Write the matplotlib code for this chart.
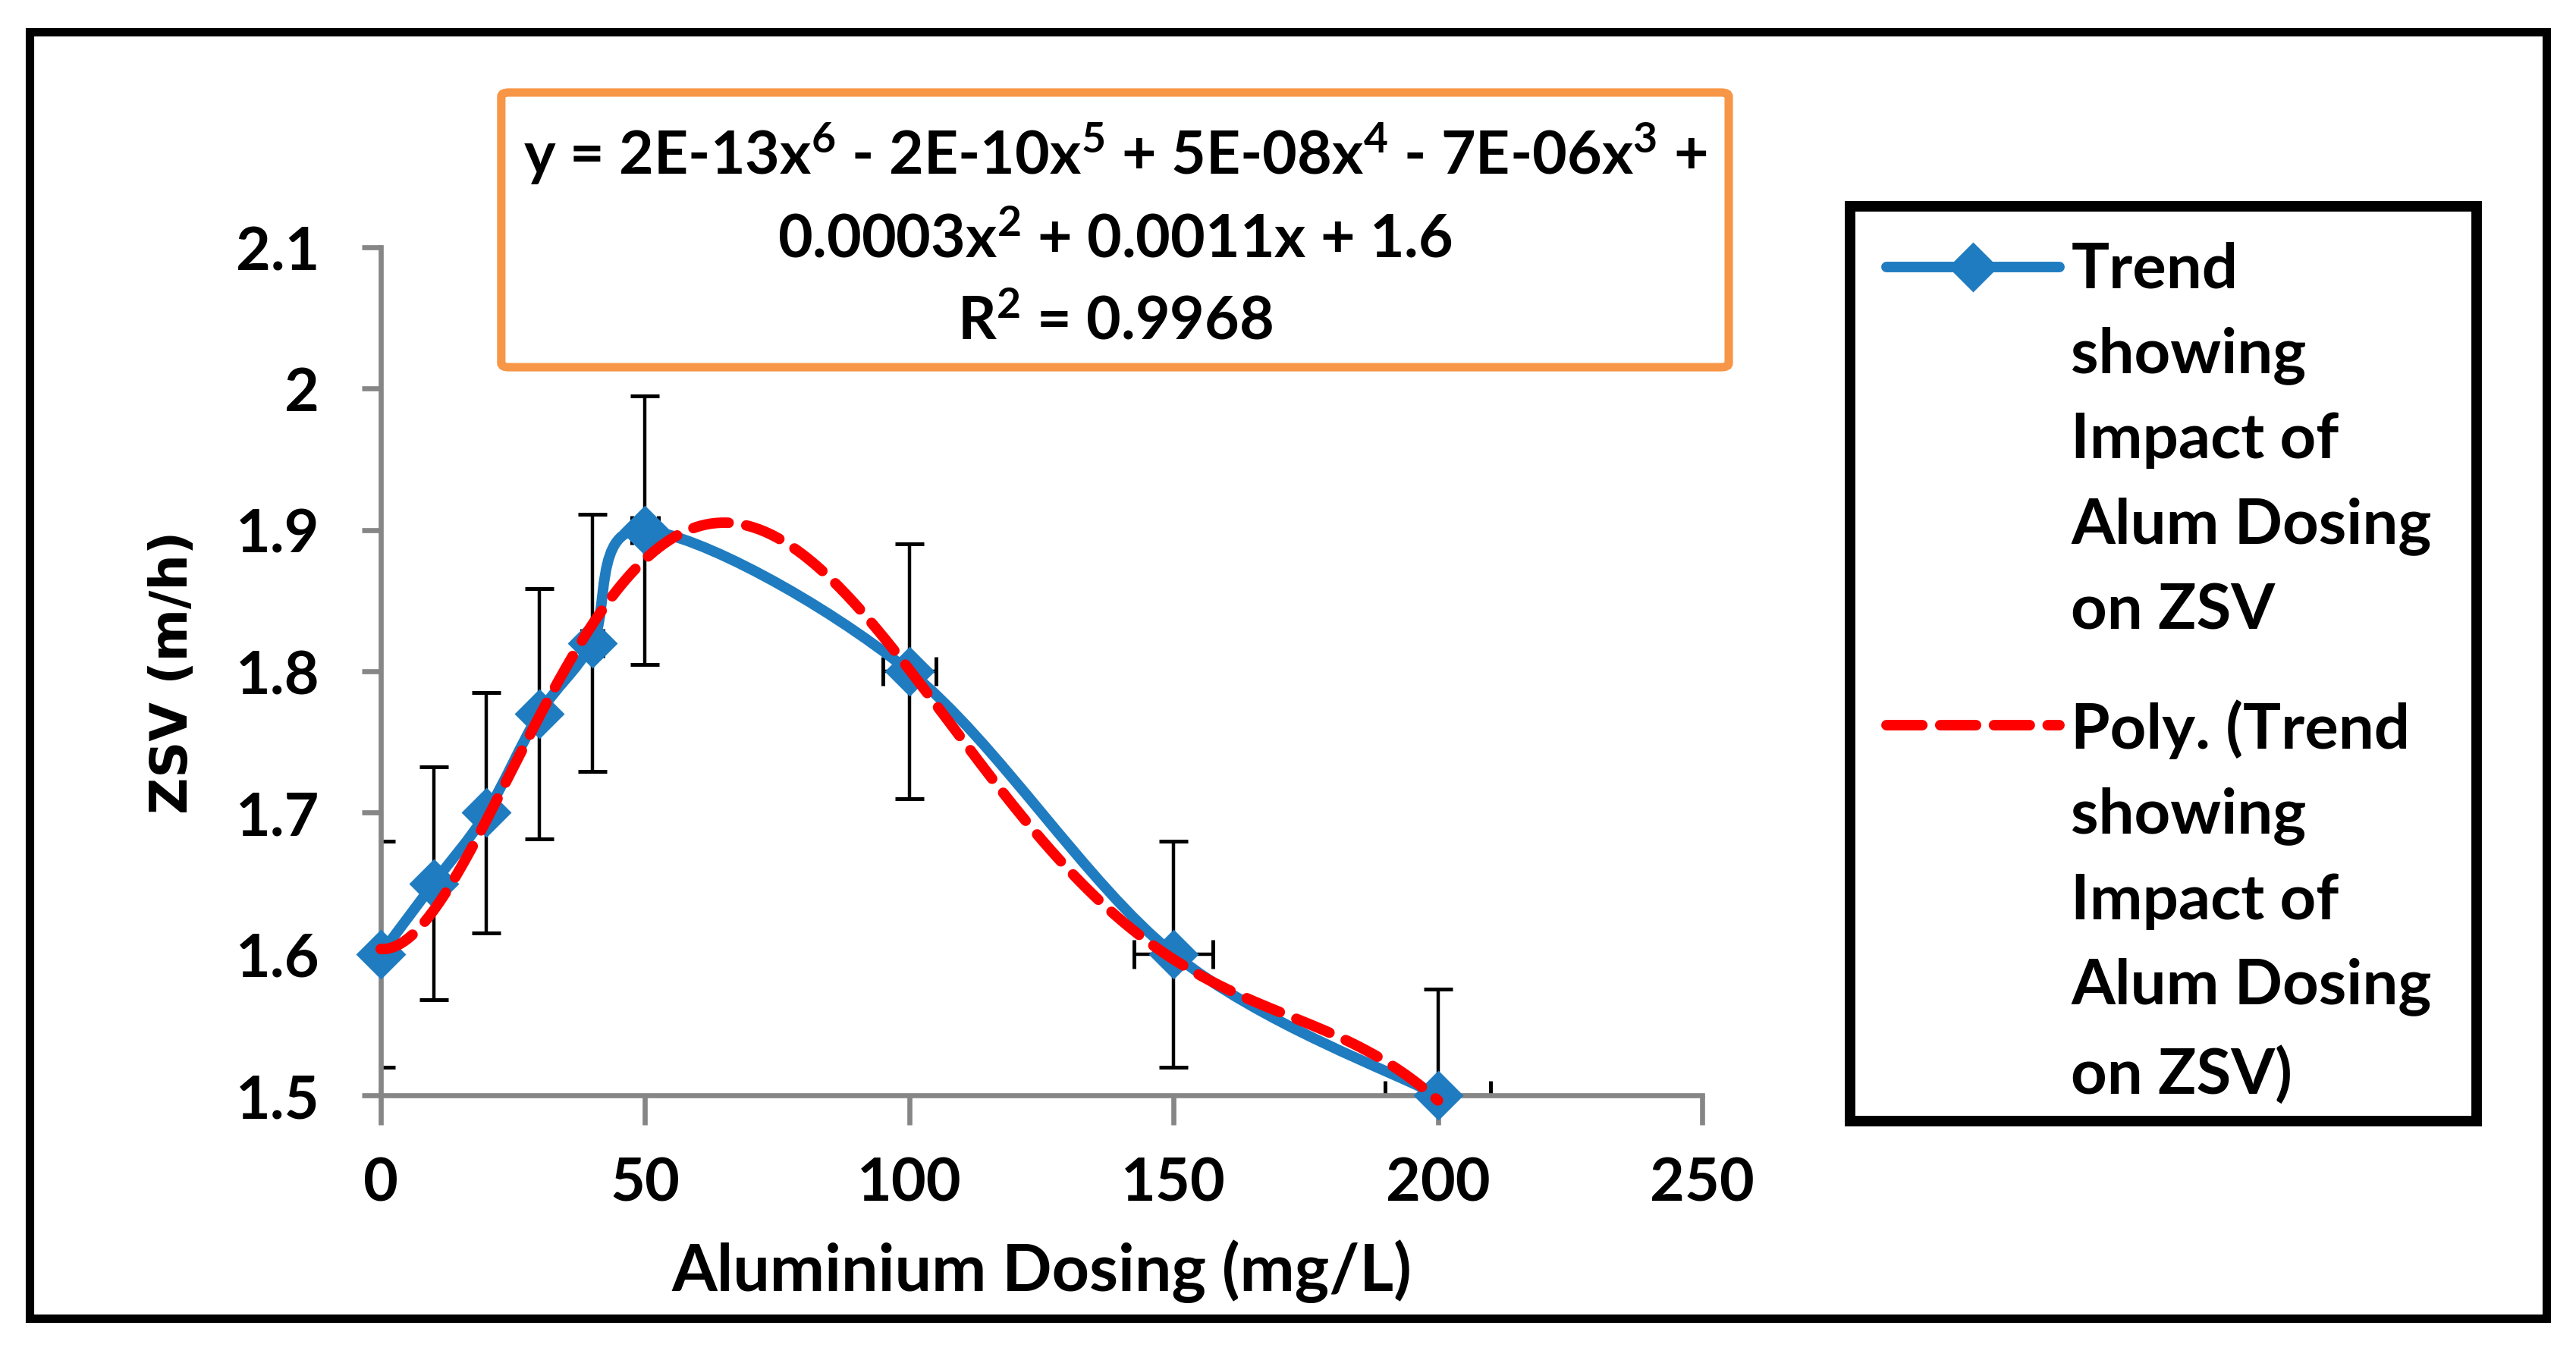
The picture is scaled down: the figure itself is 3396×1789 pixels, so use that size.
import matplotlib
matplotlib.use("Agg")
import matplotlib.pyplot as plt
import numpy as np
from matplotlib.path import Path
from matplotlib.patches import PathPatch, Rectangle, FancyBboxPatch
from matplotlib.lines import Line2D

# data
dose = [0, 10, 20, 30, 40, 50, 100, 150, 200]
zsv = [1.6, 1.65, 1.7, 1.77, 1.82, 1.9, 1.8, 1.6, 1.5]
zsv_err = [0.08, 0.0825, 0.085, 0.0885, 0.091, 0.095, 0.09, 0.08, 0.075]
dose_err = [0, 0.5, 1, 1.5, 2, 2.5, 5, 7.5, 10]
# 6th order trendline, coefficients estimated from the drawn curve
# (the box only shows them rounded)
trend_coef = [2.278913e-13, -1.860350e-10, 5.602086e-08, -7.440431e-06,
              3.696114e-04, -2.768698e-04, 1.603562]
xticks = [0, 50, 100, 150, 200, 250]
yticks = [1.5, 1.6, 1.7, 1.8, 1.9, 2.0, 2.1]
ytick_labels = ["1.5", "1.6", "1.7", "1.8", "1.9", "2", "2.1"]
legend_labels = ["Trend\nshowing\nImpact of\nAlum Dosing\non ZSV",
                 "Poly. (Trend\nshowing\nImpact of\nAlum Dosing\non ZSV)"]
equation = ("y = 2E-13x$^{6}$ - 2E-10x$^{5}$ + 5E-08x$^{4}$ - 7E-06x$^{3}$ +\n"
            "0.0003x$^{2}$ + 0.0011x + 1.6\n"
            "R$^{2}$ = 0.9968")

blue = "#1F7CC0"
red = "#FF0000"
orange = "#F79646"
grey = "#868686"

plt.rcParams["font.family"] = ["Lato", "DejaVu Sans"]
plt.rcParams["font.weight"] = "bold"
plt.rcParams["mathtext.fontset"] = "custom"
plt.rcParams["mathtext.rm"] = "Lato:bold"
plt.rcParams["mathtext.it"] = "Lato:bold"
plt.rcParams["mathtext.bf"] = "Lato:bold"

fig = plt.figure(figsize=(16.98, 8.95), dpi=200)
ax = fig.add_axes([0.1478, 0.1927, 0.5130, 0.6246])

# smoothed line like Excel (Catmull-Rom -> bezier)
pts = np.column_stack([dose, zsv])
ext = np.vstack([pts[0], pts, pts[-1]])
verts = [pts[0]]
codes = [Path.MOVETO]
for i in range(len(pts) - 1):
    p0, p1, p2, p3 = ext[i], ext[i + 1], ext[i + 2], ext[i + 3]
    verts += [p1 + (p2 - p0) / 6, p2 - (p3 - p1) / 6, p2]
    codes += [Path.CURVE4] * 3
ax.add_patch(PathPatch(Path(verts, codes), fill=False, edgecolor=blue,
                       lw=5, capstyle="round", joinstyle="round",
                       zorder=3, clip_on=False))

ax.errorbar(dose, zsv, yerr=zsv_err, xerr=dose_err, fmt="none",
            ecolor="black", elinewidth=1.6, capsize=7, capthick=1.8, zorder=2)
ax.plot(dose, zsv, linestyle="none", marker="D", markersize=16,
        color=blue, zorder=4, clip_on=False)

xs = np.linspace(0, 200, 400)
ax.plot(xs, np.polyval(trend_coef, xs), color=red, lw=5, dashes=(3.4, 1.7),
        dash_capstyle="round", zorder=5, clip_on=False)

ax.set_xlim(0, 250)
ax.set_ylim(1.5, 2.1)
ax.set_xticks(xticks)
ax.set_yticks(yticks)
ax.set_yticklabels(ytick_labels)
for s in ["top", "right"]:
    ax.spines[s].set_visible(False)
for s in ["left", "bottom"]:
    ax.spines[s].set_color(grey)
    ax.spines[s].set_linewidth(2.4)
ax.tick_params(axis="x", direction="out", length=14, width=2.4, color=grey,
               labelsize=28.5, pad=15)
ax.tick_params(axis="y", direction="out", length=9, width=2.4, color=grey,
               labelsize=28.5, pad=20)
ax.set_xlabel("Aluminium Dosing (mg/L)", fontsize=31, fontweight="bold",
              labelpad=13)
ax.set_ylabel("ZSV (m/h)", fontsize=24, fontweight="bold",
              family="DejaVu Sans", labelpad=18)

# outer frame
fig.patches.append(Rectangle((0.0115, 0.0285), 0.977, 0.9475,
                             transform=fig.transFigure, fill=False,
                             edgecolor="black", lw=4))

# equation box
fig.patches.append(FancyBboxPatch((0.1946, 0.729), 0.4765, 0.2023,
                                  boxstyle="round,pad=0,rounding_size=0.003",
                                  transform=fig.transFigure, facecolor="white",
                                  edgecolor=orange, lw=4, zorder=6))
fig.text(0.4329, 0.8268, equation, ha="center", va="center", fontsize=28.4,
         fontweight="bold", linespacing=1.6, zorder=7)

# legend drawn by hand so the handles sit on the first line of each label
fig.patches.append(Rectangle((0.7182, 0.1737), 0.2433, 0.6738,
                             transform=fig.transFigure, facecolor="white",
                             edgecolor="black", lw=5))
hx = [0.7323, 0.7995]
hy = [0.8028, 0.4654]
fig.lines.append(Line2D(hx, [hy[0]] * 2, transform=fig.transFigure,
                        color=blue, lw=5, solid_capstyle="round"))
fig.lines.append(Line2D([sum(hx) / 2], [hy[0]], transform=fig.transFigure,
                        color=blue, marker="D", markersize=16))
fig.lines.append(Line2D(hx, [hy[1]] * 2, transform=fig.transFigure,
                        color=red, lw=5, dashes=(3.4, 1.7),
                        dash_capstyle="round"))
for lab, y in zip(legend_labels, hy):
    fig.text(0.804, y + 0.0194, lab, ha="left", va="top", fontsize=30,
             fontweight="bold", linespacing=1.6)

fig.savefig("out.png", dpi=200)
